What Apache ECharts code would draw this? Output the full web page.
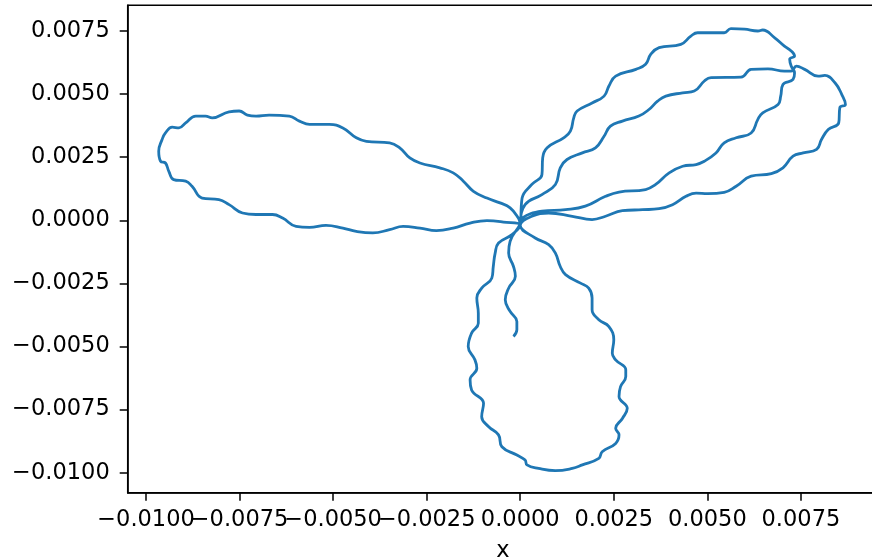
<!DOCTYPE html>
<html lang="en">

<head>
    <meta charset="UTF-8">
    <title>x - y trajectory</title>
    <script src="https://cdn.jsdelivr.net/npm/echarts@6/dist/echarts.min.js"></script>
    <style>
        html, body { margin: 0; padding: 0; overflow: hidden; background: #fff; }
        /* a little wider than the window: the right spine sits just off the picture */
        #main { width: 878px; height: 560px; }
    </style>
</head>

<body>
    <div id="main"></div>

    <script>
        // tick positions (x labels split in two sets so they may touch like the original)
        var xTicks = [-0.01, -0.0075, -0.005, -0.0025, 0, 0.0025, 0.005, 0.0075];
        var xTicksEven = [-0.01, -0.005, 0, 0.005];
        var xTicksOdd = [-0.0075, -0.0025, 0.0025, 0.0075];
        var yTicks = [-0.01, -0.0075, -0.005, -0.0025, 0, 0.0025, 0.005, 0.0075];

        // path pieces, in drawing order: [x, y]
        // tail hanging below the centre
        var tail = [
            [-0.00018, -0.00460], [-0.00009, -0.00434], [-0.00009, -0.00401], [-0.00027, -0.00361],
            [-0.00040, -0.00315], [-0.00031, -0.00269], [-0.00013, -0.00222], [-0.00018, -0.00183],
            [-0.00031, -0.00130], [-0.00027, -0.00083], [0.00000, -0.00015]
        ];
        // upper right petal, the steeper one
        var petalNE1 = [
            [0.00005, 0.00009], [0.00058, 0.00036], [0.00121, 0.00042], [0.00174, 0.00056],
            [0.00228, 0.00095], [0.00264, 0.00112], [0.00335, 0.00122], [0.00362, 0.00142],
            [0.00398, 0.00188], [0.00434, 0.00214], [0.00470, 0.00221], [0.00492, 0.00234],
            [0.00523, 0.00267], [0.00545, 0.00307], [0.00577, 0.00327], [0.00617, 0.00346],
            [0.00635, 0.00400], [0.00648, 0.00426], [0.00689, 0.00459], [0.00696, 0.00492],
            [0.00702, 0.00538], [0.00729, 0.00558], [0.00733, 0.00584], [0.00724, 0.00611],
            [0.00720, 0.00638], [0.00733, 0.00651], [0.00724, 0.00671], [0.00706, 0.00690],
            [0.00680, 0.00723], [0.00648, 0.00754], [0.00635, 0.00750], [0.00599, 0.00757],
            [0.00563, 0.00759], [0.00545, 0.00743], [0.00474, 0.00743], [0.00456, 0.00730],
            [0.00429, 0.00697], [0.00371, 0.00684], [0.00349, 0.00658], [0.00335, 0.00618],
            [0.00309, 0.00598], [0.00255, 0.00571], [0.00237, 0.00532], [0.00224, 0.00492],
            [0.00192, 0.00465], [0.00152, 0.00433], [0.00143, 0.00406], [0.00134, 0.00353],
            [0.00116, 0.00327], [0.00072, 0.00287], [0.00060, 0.00247], [0.00058, 0.00181],
            [0.00031, 0.00142], [0.00005, 0.00088], [0.00000, -0.00012]
        ];
        // left petal
        var petalW = [
            [-0.00005, 0.00009], [-0.00027, 0.00049], [-0.00054, 0.00069], [-0.00089, 0.00088],
            [-0.00125, 0.00115], [-0.00152, 0.00155], [-0.00179, 0.00188], [-0.00215, 0.00208],
            [-0.00268, 0.00227], [-0.00295, 0.00247], [-0.00322, 0.00287], [-0.00349, 0.00307],
            [-0.00411, 0.00313], [-0.00438, 0.00327], [-0.00474, 0.00366], [-0.00510, 0.00380],
            [-0.00563, 0.00380], [-0.00590, 0.00393], [-0.00617, 0.00413], [-0.00671, 0.00417],
            [-0.00706, 0.00413], [-0.00729, 0.00417], [-0.00751, 0.00433], [-0.00778, 0.00430],
            [-0.00823, 0.00406], [-0.00841, 0.00413], [-0.00867, 0.00413], [-0.00894, 0.00386],
            [-0.00912, 0.00366], [-0.00930, 0.00369], [-0.00948, 0.00346], [-0.00957, 0.00320],
            [-0.00966, 0.00274], [-0.00961, 0.00234], [-0.00948, 0.00227], [-0.00939, 0.00194],
            [-0.00926, 0.00161], [-0.00894, 0.00155], [-0.00877, 0.00135], [-0.00850, 0.00088],
            [-0.00805, 0.00082], [-0.00778, 0.00062], [-0.00742, 0.00029], [-0.00706, 0.00023],
            [-0.00662, 0.00023], [-0.00635, 0.00009], [-0.00599, -0.00024], [-0.00563, -0.00028],
            [-0.00519, -0.00020], [-0.00474, -0.00031], [-0.00438, -0.00044], [-0.00394, -0.00050],
            [-0.00349, -0.00037], [-0.00313, -0.00024], [-0.00268, -0.00031], [-0.00224, -0.00041],
            [-0.00179, -0.00031], [-0.00134, -0.00011], [-0.00089, -0.00001], [-0.00045, -0.00007],
            [0.00000, -0.00020]
        ];
        // bottom petal
        var petalS = [
            [-0.00022, -0.00057], [-0.00058, -0.00090], [-0.00067, -0.00130], [-0.00072, -0.00183],
            [-0.00076, -0.00229], [-0.00103, -0.00269], [-0.00116, -0.00308], [-0.00112, -0.00368],
            [-0.00112, -0.00408], [-0.00130, -0.00447], [-0.00139, -0.00500], [-0.00121, -0.00553],
            [-0.00116, -0.00586], [-0.00134, -0.00632], [-0.00130, -0.00672], [-0.00098, -0.00725],
            [-0.00103, -0.00778], [-0.00085, -0.00817], [-0.00058, -0.00850], [-0.00049, -0.00897],
            [-0.00009, -0.00930], [0.00013, -0.00950], [0.00018, -0.00969], [0.00049, -0.00983],
            [0.00094, -0.00992], [0.00139, -0.00983], [0.00166, -0.00969], [0.00210, -0.00943],
            [0.00219, -0.00917], [0.00255, -0.00884], [0.00264, -0.00850], [0.00255, -0.00824],
            [0.00273, -0.00785], [0.00286, -0.00745], [0.00264, -0.00698], [0.00268, -0.00659],
            [0.00282, -0.00619], [0.00282, -0.00592], [0.00255, -0.00553], [0.00246, -0.00527],
            [0.00250, -0.00473], [0.00237, -0.00421], [0.00210, -0.00394], [0.00192, -0.00354],
            [0.00192, -0.00308], [0.00183, -0.00269], [0.00161, -0.00249], [0.00121, -0.00215],
            [0.00107, -0.00183], [0.00094, -0.00130], [0.00076, -0.00096], [0.00040, -0.00070],
            [0.00000, -0.00020]
        ];
        // upper right petal, the flatter one
        var petalNE2 = [
            [0.00031, 0.00016], [0.00076, 0.00029], [0.00139, 0.00016], [0.00192, 0.00003],
            [0.00228, 0.00016], [0.00273, 0.00038], [0.00327, 0.00042], [0.00371, 0.00046],
            [0.00407, 0.00062], [0.00443, 0.00095], [0.00470, 0.00108], [0.00501, 0.00106],
            [0.00545, 0.00111], [0.00577, 0.00135], [0.00617, 0.00175], [0.00671, 0.00185],
            [0.00702, 0.00208], [0.00729, 0.00254], [0.00756, 0.00267], [0.00792, 0.00281],
            [0.00805, 0.00320], [0.00823, 0.00360], [0.00851, 0.00386], [0.00854, 0.00446],
            [0.00869, 0.00459], [0.00859, 0.00499], [0.00841, 0.00545], [0.00814, 0.00574],
            [0.00796, 0.00571], [0.00760, 0.00598], [0.00738, 0.00611], [0.00724, 0.00591],
            [0.00706, 0.00591], [0.00662, 0.00600], [0.00617, 0.00598], [0.00590, 0.00567],
            [0.00510, 0.00565], [0.00492, 0.00552], [0.00465, 0.00512], [0.00434, 0.00505],
            [0.00389, 0.00492], [0.00367, 0.00472], [0.00344, 0.00439], [0.00317, 0.00413],
            [0.00273, 0.00393], [0.00241, 0.00373], [0.00224, 0.00333], [0.00201, 0.00287],
            [0.00166, 0.00267], [0.00125, 0.00241], [0.00107, 0.00208], [0.00094, 0.00142],
            [0.00058, 0.00102], [0.00013, 0.00062], [0.00000, -0.00012]
        ];

        // one continuous path
        var path = tail.concat(petalNE1, petalW, petalS, petalNE2);

        function tickText(v) {
            return (v < 0 ? '\u2212' : '') + Math.abs(v).toFixed(4);
        }

        var font = 'DejaVu Sans';
        var axisPen = { color: '#000', width: 1.5 };
        var xMin = -0.010489, xMax = 0.00956;

        // bottom axis: line + ticks, labels of one set
        function bottomAxis(labels, main) {
            return {
                type: 'value',
                position: 'bottom',
                min: xMin,
                max: xMax,
                name: main ? 'x' : '',
                nameLocation: 'middle',
                nameGap: 47,
                nameTextStyle: { fontFamily: font, fontSize: 22.5, color: '#000' },
                axisLine: { show: main, onZero: false, lineStyle: axisPen },
                splitLine: { show: false },
                axisTick: {
                    show: main, inside: false, length: 8,
                    customValues: xTicks,
                    lineStyle: axisPen
                },
                axisLabel: {
                    customValues: labels,
                    formatter: tickText,
                    hideOverlap: false,
                    margin: 16,
                    fontFamily: font, fontSize: 22.5, color: '#000'
                }
            };
        }

        var myChart = echarts.init(document.getElementById('main'));
        myChart.setOption({
            backgroundColor: '#fff',
            animation: false,
            grid: {
                left: 127.7,
                top: 5.3,
                right: 0,
                bottom: 67.3,
                outerBoundsMode: 'none',
                containLabel: false,
                show: true,
                borderColor: '#000',
                borderWidth: 1.5,
                backgroundColor: 'transparent'
            },
            xAxis: [bottomAxis(xTicksEven, true), bottomAxis(xTicksOdd, false)],
            yAxis: {
                type: 'value',
                min: -0.010792,
                max: 0.008518,
                axisLine: { show: true, onZero: false, lineStyle: axisPen },
                splitLine: { show: false },
                axisTick: {
                    show: true, inside: false, length: 8,
                    customValues: yTicks,
                    lineStyle: axisPen
                },
                axisLabel: {
                    customValues: yTicks,
                    formatter: tickText,
                    hideOverlap: false,
                    margin: 18,
                    fontFamily: font, fontSize: 22.5, color: '#000'
                }
            },
            series: [{
                type: 'line',
                xAxisIndex: 0,
                data: path,
                showSymbol: false,
                smooth: 0.45,
                lineStyle: { color: '#1f77b4', width: 2.8 }
            }]
        });
    </script>
</body>

</html>
